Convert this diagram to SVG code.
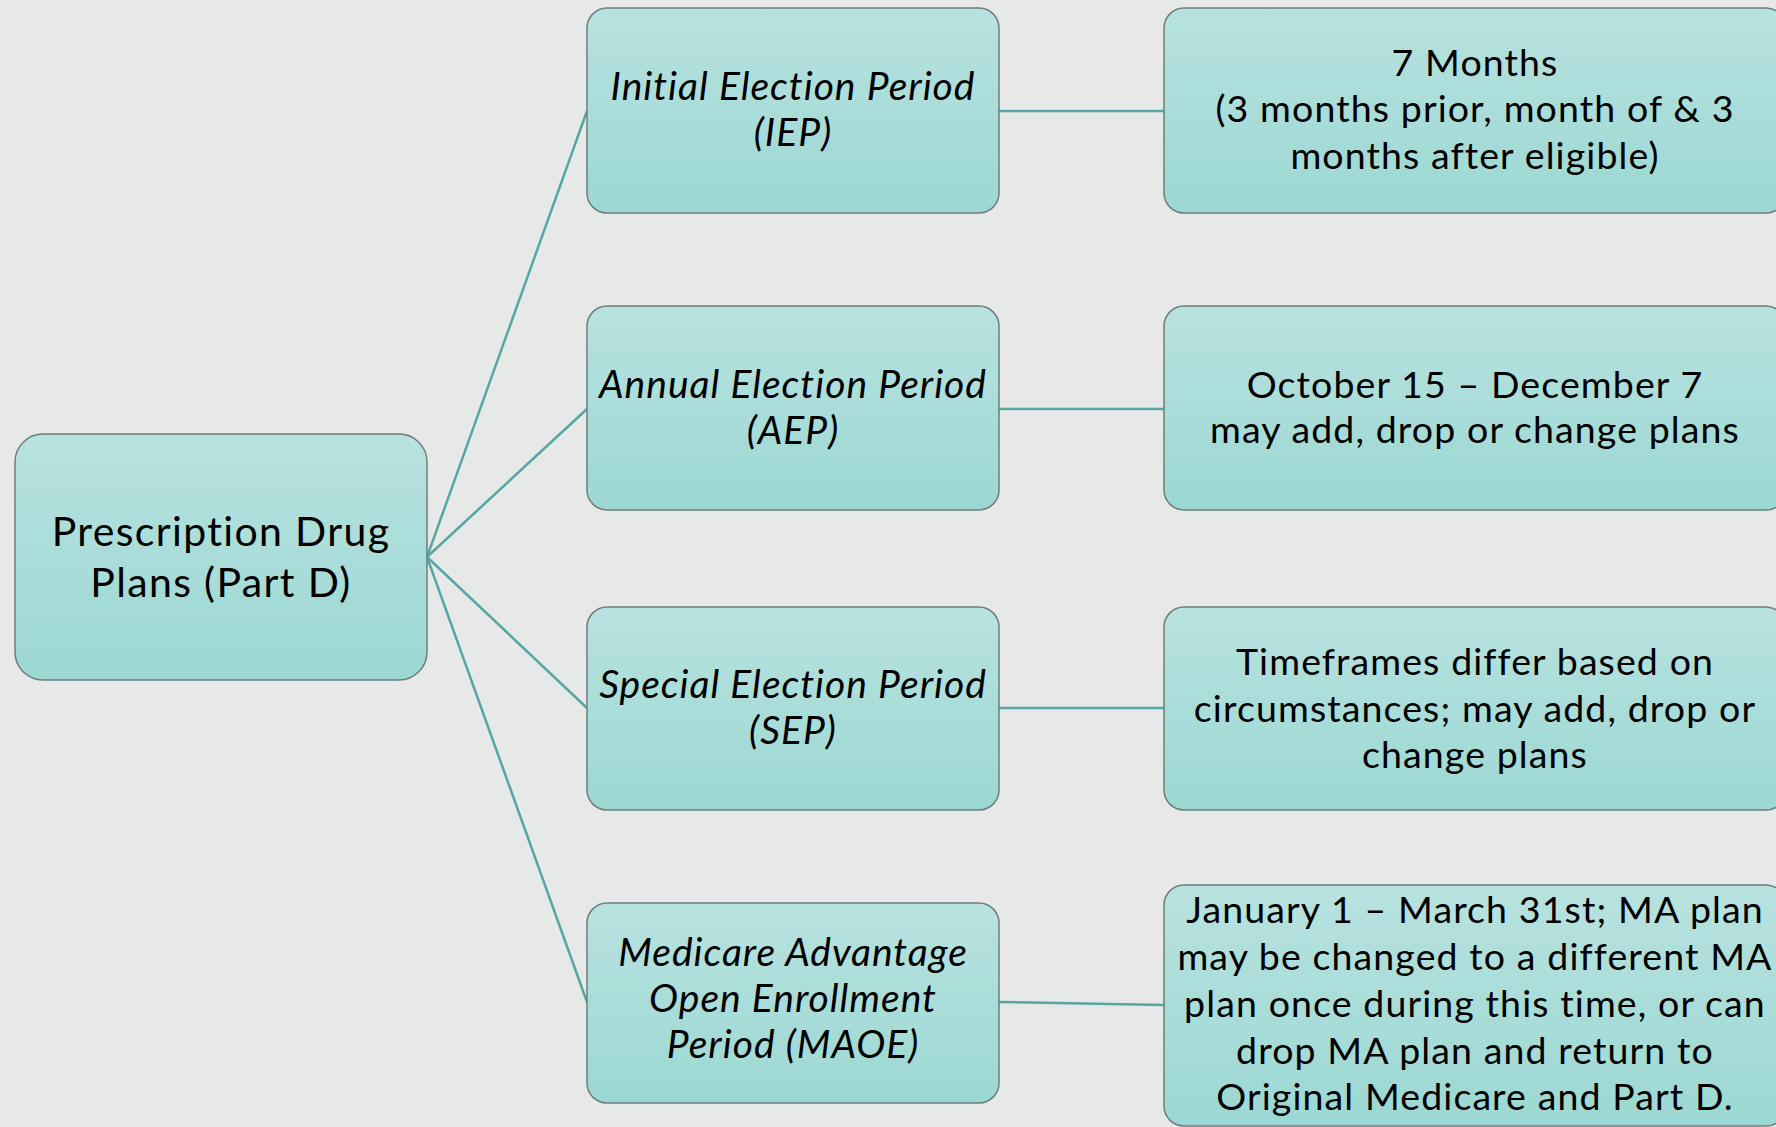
<svg xmlns="http://www.w3.org/2000/svg" width="1776" height="1127" viewBox="0 0 1776 1127">
<defs>
<linearGradient id="g" x1="0" y1="0" x2="0" y2="1">
<stop offset="0" stop-color="#b8e2df"/>
<stop offset="1" stop-color="#9cd8d3"/>
</linearGradient>
<style>
.box{fill:url(#g);stroke:#6f7d7c;stroke-width:1.5}
.t{font-family:Lato,"Open Sans",sans-serif;font-size:37.5px;letter-spacing:1.1px;fill:#000;text-anchor:middle}
.i{font-style:italic;font-size:39px;letter-spacing:1px}
.r{font-size:41px;letter-spacing:1.35px}
.c{stroke:#55a7a2;stroke-width:2.5;fill:none}
</style>
</defs>
<rect width="1776" height="1127" fill="#e7e9e8"/>
<g id="connectors">
<line class="c" x1="427" y1="557" x2="587" y2="111"/>
<line class="c" x1="427" y1="557" x2="587" y2="409"/>
<line class="c" x1="427" y1="557" x2="587" y2="708"/>
<line class="c" x1="427" y1="557" x2="587" y2="1002"/>
<line class="c" x1="999" y1="111" x2="1164" y2="111"/>
<line class="c" x1="999" y1="409" x2="1164" y2="409"/>
<line class="c" x1="999" y1="708" x2="1164" y2="708"/>
<line class="c" x1="999" y1="1002" x2="1164" y2="1005"/>
</g>
<g id="root">
<rect class="box" x="15" y="434" width="412" height="246" rx="28"/>
<text class="t r" x="221" y="546">Prescription Drug</text>
<text class="t r" x="221" y="597">Plans (Part D)</text>
</g>
<g id="iep">
<rect class="box" x="587" y="8" width="412" height="205" rx="20"/>
<text class="t i" x="793" y="100">Initial Election Period</text>
<text class="t i" x="793" y="146">(IEP)</text>
</g>
<g id="aep">
<rect class="box" x="587" y="306" width="412" height="204" rx="20"/>
<text class="t i" x="793" y="398">Annual Election Period</text>
<text class="t i" x="793" y="444">(AEP)</text>
</g>
<g id="sep">
<rect class="box" x="587" y="607" width="412" height="203" rx="20"/>
<text class="t i" x="793" y="698">Special Election Period</text>
<text class="t i" x="793" y="744">(SEP)</text>
</g>
<g id="maoe">
<rect class="box" x="587" y="903" width="412" height="200" rx="20"/>
<text class="t i" x="793" y="966">Medicare Advantage</text>
<text class="t i" x="793" y="1012">Open Enrollment</text>
<text class="t i" x="793" y="1058">Period (MAOE)</text>
</g>
<g id="iep-detail">
<rect class="box" x="1164" y="8" width="622" height="205" rx="20"/>
<text class="t" x="1475" y="76">7 Months</text>
<text class="t" x="1475" y="122">(3 months prior, month of &amp; 3</text>
<text class="t" x="1475" y="169">months after eligible)</text>
</g>
<g id="aep-detail">
<rect class="box" x="1164" y="306" width="622" height="204" rx="20"/>
<text class="t" x="1475" y="398">October 15 – December 7</text>
<text class="t" x="1475" y="443">may add, drop or change plans</text>
</g>
<g id="sep-detail">
<rect class="box" x="1164" y="607" width="622" height="203" rx="20"/>
<text class="t" x="1475" y="675">Timeframes differ based on</text>
<text class="t" x="1475" y="722">circumstances; may add, drop or</text>
<text class="t" x="1475" y="768">change plans</text>
</g>
<g id="maoe-detail">
<rect class="box" x="1164" y="885" width="622" height="241" rx="20"/>
<text class="t" x="1475" y="923">January 1 – March 31st; MA plan</text>
<text class="t" x="1475" y="970">may be changed to a different MA</text>
<text class="t" x="1475" y="1017">plan once during this time, or can</text>
<text class="t" x="1475" y="1064">drop MA plan and return to</text>
<text class="t" x="1475" y="1110">Original Medicare and Part D.</text>
</g>
</svg>
